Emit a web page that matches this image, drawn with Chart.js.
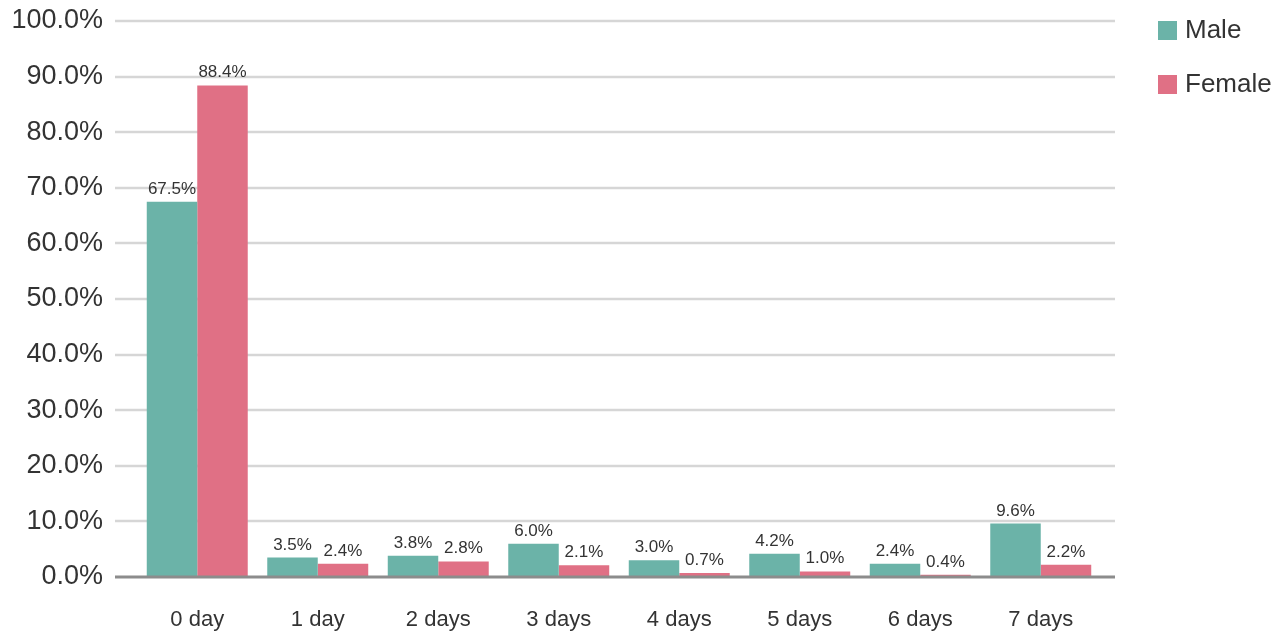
<!DOCTYPE html>
<html><head><meta charset="utf-8">
<script src="https://cdn.jsdelivr.net/npm/chart.js@4/dist/chart.umd.min.js"></script>
<style>html,body{margin:0;padding:0;background:#fff;}</style>
</head><body>
<canvas id="c" width="1286" height="636"></canvas>
<script>
const categories = ['0 day','1 day','2 days','3 days','4 days','5 days','6 days','7 days'];
const maleValues = [67.5, 3.5, 3.8, 6.0, 3.0, 4.2, 2.4, 9.6];
const femaleValues = [88.4, 2.4, 2.8, 2.1, 0.7, 1.0, 0.4, 2.2];
const seriesNames = ['Male', 'Female'];
const seriesColors = ['#6bb3a8', '#e07085'];
const yTicks = [0, 10, 20, 30, 40, 50, 60, 70, 80, 90, 100];

const FONT = '"Liberation Sans", Arial, Helvetica, sans-serif';

const decorPlugin = {
  id: 'decor',
  beforeDatasetsDraw(chart) {
    const ctx = chart.ctx, y = chart.scales.y, a = chart.chartArea;
    ctx.save();
    ctx.strokeStyle = '#d6d6d6';
    ctx.lineWidth = 2.5;
    yTicks.forEach(v => {
      if (v === 0) return;
      const py = Math.round(y.getPixelForValue(v));
      ctx.beginPath();
      ctx.moveTo(a.left - 22, py);
      ctx.lineTo(a.right + 14, py);
      ctx.stroke();
    });
    ctx.restore();
  },
  afterDatasetsDraw(chart) {
    const ctx = chart.ctx, y = chart.scales.y, a = chart.chartArea;
    ctx.save();
    const p0 = y.getPixelForValue(0);
    ctx.strokeStyle = '#8c8c8c';
    ctx.lineWidth = 3;
    ctx.beginPath();
    ctx.moveTo(a.left - 22, p0);
    ctx.lineTo(a.right + 14, p0);
    ctx.stroke();
    ctx.font = '17px ' + FONT;
    ctx.fillStyle = '#333333';
    ctx.textAlign = 'center';
    ctx.textBaseline = 'alphabetic';
    chart.data.datasets.forEach((ds, i) => {
      const meta = chart.getDatasetMeta(i);
      meta.data.forEach((bar, j) => {
        ctx.fillText(ds.data[j].toFixed(1) + '%', bar.x, bar.y - 8);
      });
    });
    ctx.restore();
  },
  afterDraw(chart) {
    const ctx = chart.ctx;
    ctx.save();
    ctx.font = '26px ' + FONT;
    ctx.textBaseline = 'middle';
    ctx.textAlign = 'left';
    chart.data.datasets.forEach((ds, i) => {
      const top = 21 + i * 54;
      ctx.fillStyle = ds.backgroundColor;
      ctx.fillRect(1158, top, 19, 19);
      ctx.fillStyle = '#333333';
      ctx.fillText(ds.label, 1185, top + 10);
    });
    ctx.restore();
  }
};

new Chart(document.getElementById('c'), {
  type: 'bar',
  data: {
    labels: categories,
    datasets: [
      { label: seriesNames[0], data: maleValues, backgroundColor: seriesColors[0], borderWidth: 0 },
      { label: seriesNames[1], data: femaleValues, backgroundColor: seriesColors[1], borderWidth: 0 }
    ]
  },
  options: {
    responsive: false,
    animation: false,
    devicePixelRatio: 1,
    layout: { padding: { top: 21, right: 185, bottom: 0, left: 0 } },
    datasets: { bar: { barPercentage: 1.0, categoryPercentage: 0.838 } },
    plugins: { legend: { display: false }, tooltip: { enabled: false } },
    scales: {
      x: {
        grid: { display: false, drawTicks: false },
        border: { display: false },
        ticks: { color: '#333333', font: { size: 22, family: FONT }, padding: 30, maxRotation: 0 },
        afterFit(s) { s.height = 59; }
      },
      y: {
        min: 0, max: 100,
        grid: { display: true, drawOnChartArea: false, drawTicks: true, tickLength: 34, color: 'rgba(0,0,0,0)' },
        border: { display: false },
        afterBuildTicks(s) { s.ticks = yTicks.map(v => ({ value: v })); },
        ticks: {
          color: '#333333', font: { size: 27, family: FONT }, padding: 0,
          callback: v => Number(v).toFixed(1) + '%'
        },
        afterFit(s) { s.width = 137; }
      }
    }
  },
  plugins: [decorPlugin]
});
</script>
</body></html>
